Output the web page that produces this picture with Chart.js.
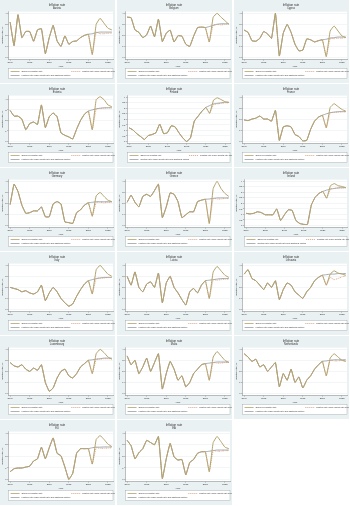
<!DOCTYPE html>
<html>
<head>
<meta charset="utf-8">
<script src="https://cdn.jsdelivr.net/npm/chart.js@4"></script>
<style>
    body { margin: 0; background: #fff; width: 350px; height: 506px; position: relative; overflow: hidden; }
    canvas { position: absolute; display: block; }
</style>
</head>
<body>
<script>

const years = [2000, 2001, 2002, 2003, 2004, 2005, 2006, 2007, 2008, 2009, 2010, 2011, 2012, 2013,
    2014, 2015, 2016, 2017, 2018, 2019, 2020, 2021, 2022, 2023, 2024, 2025, 2026];

const xTicks = [2000, 2005, 2010, 2015, 2020, 2025];

const countries = ["Austria", "Belgium", "Cyprus", "Estonia", "Finland", "France", "Germany", "Greece",
    "Ireland", "Italy", "Latvia", "Lithuania", "Luxembourg", "Malta", "Netherlands", "EU", "EA"];

// y axis step per panel (most panels 0..4 by 1)
const yStep = [1, 1, 1, 1, 0.5, 1, 1, 1, 0.5, 1, 1, 1, 1, 1, 1, 1, 1];
const yMax = [4.15, 4.15, 4.15, 4.35, 4.15, 4.15, 4.15, 4.15, 4.15, 4.15, 4.15, 4.15, 4.15, 4.15, 4.15, 4.15, 4.15];

// observed inflation, 2000-2026
const observed = [
    [3.2, 1.07, 3.87, 1.8, 2.35, 2.35, 1.47, 2.5, 2.6, 0.35, 1.8, 2.9, 1.5, 1.0, 1.95, 1.2, 1.45, 1.5, 1.8, 2.0, 2.1, 0.27, 3.0, 3.55, 3.1, 2.65, 2.5],
    [3.65, 3.6, 2.5, 2.27, 1.8, 2.05, 2.85, 1.87, 3.47, 1.44, 2.2, 2.47, 1.4, 1.97, 1.93, 1.2, 1.0, 1.93, 2.7, 2.75, 2.7, 1.4, 3.65, 4.0, 3.65, 3.33, 3.0],
    [2.48, 2.27, 1.52, 1.47, 1.73, 2.35, 2.13, 1.73, 4.0, 0.13, 2.2, 3.0, 2.27, 1.2, 0.6, 0.67, 1.68, 1.6, 1.41, 1.52, 1.6, 0.08, 2.4, 2.85, 2.4, 1.95, 1.8],
    [2.94, 2.41, 2.41, 2.12, 1.12, 1.7, 1.85, 1.62, 3.47, 1.32, 2.35, 2.7, 2.35, 0.82, 0.59, 0.44, 0.24, 1.18, 2.0, 2.59, 2.88, 1.12, 3.97, 4.25, 3.97, 3.47, 3.3],
    [1.24, 1.05, 0.71, 0.45, 0.18, 0.53, 0.63, 0.79, 1.58, 0.71, 0.79, 1.42, 1.32, 0.79, 0.32, 0.0, 0.32, 1.84, 2.29, 2.74, 3.08, 2.55, 3.74, 3.95, 3.79, 3.6, 3.53],
    [1.95, 1.89, 2.03, 2.11, 2.3, 2.03, 2.03, 1.84, 2.82, 0.1, 1.32, 1.42, 1.32, 0.63, 0.45, 0.05, 0.1, 1.1, 1.84, 2.2, 2.37, 1.24, 3.08, 3.42, 3.16, 2.9, 2.74],
    [1.9, 3.74, 3.08, 1.84, 1.1, 1.16, 1.32, 1.32, 1.68, 0.79, 0.79, 1.95, 2.16, 1.95, 0.32, 0.26, 0.18, 1.16, 1.42, 1.84, 2.05, 0.84, 2.68, 3.0, 2.63, 2.29, 2.16],
    [2.1, 2.74, 2.1, 1.68, 2.63, 2.82, 2.63, 3.16, 3.74, 0.71, 1.68, 2.95, 2.82, 2.16, 0.71, 0.97, 1.24, 1.24, 2.16, 2.29, 2.37, 0.18, 3.34, 4.0, 3.34, 2.9, 2.63],
    [1.1, 1.05, 1.1, 1.24, 1.16, 0.97, 0.97, 0.97, 1.5, 0.45, 0.97, 1.42, 1.37, 0.45, 0.18, 0.1, 0.1, 1.84, 2.55, 2.9, 3.08, 2.47, 3.6, 3.79, 3.6, 3.53, 3.42],
    [2.0, 1.9, 1.8, 1.6, 1.7, 1.5, 1.4, 1.6, 2.2, 0.8, 1.5, 2.0, 1.6, 1.0, 0.6, 0.3, 0.5, 1.2, 1.8, 2.3, 2.6, 1.4, 3.6, 4.0, 3.6, 3.2, 3.0],
    [3.0, 2.2, 3.4, 2.0, 1.6, 2.3, 2.5, 2.0, 3.3, 0.6, 2.4, 3.0, 2.0, 1.5, 0.9, 0.4, 1.6, 1.9, 1.5, 2.2, 2.6, 1.0, 3.4, 3.9, 3.5, 3.1, 2.9],
    [3.2, 3.6, 2.8, 2.6, 2.2, 1.8, 2.4, 2.0, 2.6, 0.9, 1.8, 2.4, 2.2, 1.6, 1.3, 1.0, 1.6, 2.0, 2.6, 2.9, 3.1, 2.2, 3.2, 3.5, 3.3, 3.2, 3.1],
    [2.8, 2.5, 2.4, 2.6, 2.2, 2.0, 2.3, 2.1, 2.6, 1.0, 0.2, 0.5, 1.4, 2.0, 2.2, 1.6, 1.4, 1.8, 2.4, 2.7, 3.0, 1.8, 3.6, 4.0, 3.7, 3.3, 3.1],
    [3.4, 2.6, 3.0, 1.8, 2.4, 3.2, 2.0, 2.8, 3.6, 0.4, 1.8, 2.9, 2.2, 1.2, 1.6, 0.6, 1.0, 1.8, 2.2, 2.6, 2.7, 1.2, 3.3, 3.8, 3.4, 3.0, 2.8],
    [3.6, 3.3, 2.9, 3.1, 2.4, 2.6, 2.0, 2.4, 2.8, 0.6, 1.8, 1.2, 2.2, 1.0, 1.5, 0.5, 1.2, 1.6, 2.2, 2.6, 2.9, 1.6, 3.2, 3.6, 3.3, 3.0, 2.9],
    [0.67, 0.93, 0.99, 0.99, 1.07, 1.15, 1.6, 1.79, 2.8, 1.79, 2.75, 3.6, 2.27, 2.05, 1.07, 0.0, 0.53, 2.27, 2.67, 2.67, 2.67, 1.33, 3.47, 3.81, 3.47, 3.07, 2.85],
    [3.39, 2.93, 1.79, 2.32, 2.67, 3.39, 3.2, 3.01, 3.73, 0.08, 1.79, 3.12, 1.95, 1.68, 1.73, 0.4, 1.47, 1.73, 2.27, 2.4, 2.4, 0.67, 3.2, 3.73, 3.28, 2.8, 2.67]
];

// growth rate + additional factors path, 2021-2026
const factorPath = [
    [2.15, 2.25, 2.3, 2.3, 2.3, 2.3], [2.8, 2.9, 3.0, 3.05, 3.05, 3.05], [1.65, 1.75, 1.8, 1.85, 1.85, 1.85],
    [3.0, 3.1, 3.15, 3.2, 3.2, 3.2], [3.25, 3.4, 3.45, 3.5, 3.55, 3.55], [2.5, 2.6, 2.65, 2.7, 2.7, 2.7],
    [2.1, 2.15, 2.15, 2.15, 2.15, 2.15], [2.4, 2.45, 2.5, 2.5, 2.5, 2.5], [3.2, 3.3, 3.35, 3.4, 3.42, 3.42],
    [2.7, 2.8, 2.85, 2.9, 2.9, 2.9], [2.65, 2.7, 2.75, 2.8, 2.8, 2.8], [3.15, 3.2, 3.2, 3.25, 3.25, 3.25],
    [3.05, 3.1, 3.15, 3.2, 3.2, 3.2], [2.75, 2.8, 2.85, 2.85, 2.85, 2.85], [2.95, 3.0, 3.05, 3.05, 3.05, 3.05],
    [2.75, 2.8, 2.8, 2.82, 2.82, 2.82], [2.45, 2.5, 2.55, 2.55, 2.55, 2.55]
];

// growth rate scenario path, 2022-2026
const growthPath = [
    [2.3, 2.15, 2.15, 2.2, 2.2], [2.95, 3.0, 2.95, 3.0, 3.05], [1.75, 1.7, 1.75, 1.75, 1.8],
    [3.1, 3.15, 3.15, 3.2, 3.2], [3.35, 3.4, 3.45, 3.5, 3.5], [2.6, 2.65, 2.65, 2.7, 2.7],
    [2.1, 2.1, 2.05, 2.1, 2.1], [2.45, 2.4, 2.4, 2.45, 2.45], [3.3, 3.35, 3.4, 3.4, 3.42],
    [2.8, 2.85, 2.85, 2.9, 2.9], [2.7, 2.65, 2.7, 2.75, 2.75], [2.9, 2.7, 2.8, 2.95, 3.05],
    [3.1, 3.1, 3.15, 3.15, 3.15], [2.8, 2.75, 2.75, 2.8, 2.8], [3.0, 2.95, 2.95, 3.0, 3.0],
    [2.75, 2.7, 2.7, 2.72, 2.75], [2.5, 2.45, 2.45, 2.5, 2.5]
];

const legendLabels = [
    "Observed inflation rate",
    "Inflation rate under growth rate scenario",
    "Inflation rate under growth rate and additional factors"
];

const colObserved = "#b3a26c";
const colGrowth = "#d49f80";
const colFactor = "#98a1a6";
const fontFamily = "'Liberation Sans', Arial, sans-serif";

const colLeft = [0, 117, 234];
const panelW = 115;

// stata like background + legend box
const stataFrame = {
    id: "stataFrame",
    beforeDraw(chart) {
        const { ctx, chartArea: a, width, height } = chart;
        ctx.save();
        ctx.fillStyle = "#eaf1f3";
        ctx.fillRect(0, 0, width, height);
        ctx.fillStyle = "#ffffff";
        ctx.fillRect(a.left, a.top, a.right - a.left, a.bottom - a.top);
        ctx.restore();
    },
    afterDraw(chart) {
        const { ctx, chartArea: a, height } = chart;
        const bx = a.left, by = height - 14.5, bw = a.right - a.left, bh = 10;
        ctx.save();
        ctx.fillStyle = "#ffffff";
        ctx.fillRect(bx, by, bw, bh);
        ctx.strokeStyle = "#9aa3a7";
        ctx.lineWidth = 0.4;
        ctx.strokeRect(bx, by, bw, bh);

        const items = [
            { x: bx + 2, y: by + 3, color: colObserved, dash: [], text: legendLabels[0] },
            { x: bx + bw * 0.6, y: by + 3, color: colGrowth, dash: [1.2, 0.8], text: legendLabels[1] },
            { x: bx + 2, y: by + 7, color: colFactor, dash: [], text: legendLabels[2] }
        ];

        ctx.font = "2.1px " + fontFamily;
        ctx.textBaseline = "middle";
        items.forEach(it => {
            ctx.strokeStyle = it.color;
            ctx.lineWidth = 0.8;
            ctx.setLineDash(it.dash);
            ctx.beginPath();
            ctx.moveTo(it.x, it.y);
            ctx.lineTo(it.x + 9, it.y);
            ctx.stroke();
            ctx.setLineDash([]);
            ctx.fillStyle = "#333";
            ctx.fillText(it.text, it.x + 11, it.y);
        });
        ctx.restore();
    }
};

function toPoints(values) {
    return values.map((v, i) => ({ x: years[i], y: v }));
}

countries.forEach((country, i) => {

    const row = Math.floor(i / 3);
    const col = i % 3;
    const panelH = row === 5 ? 85 : 83;

    const canvas = document.createElement("canvas");
    canvas.width = panelW;
    canvas.height = panelH;
    canvas.style.left = colLeft[col] + "px";
    canvas.style.top = (row * 84) + "px";
    canvas.style.width = panelW + "px";
    canvas.style.height = panelH + "px";
    document.body.appendChild(canvas);

    const obs = observed[i];
    const factorSeries = obs.slice(0, 21).concat(factorPath[i]);
    const growthSeries = obs.slice(0, 22).concat(growthPath[i]);

    const step = yStep[i];

    new Chart(canvas, {

        type: "line",

        data: {
            datasets: [
                {
                    label: legendLabels[0],
                    data: toPoints(obs),
                    borderColor: colObserved,
                    borderWidth: 1,
                    pointRadius: 0,
                    tension: 0.1
                },
                {
                    label: legendLabels[1],
                    data: toPoints(growthSeries),
                    borderColor: colGrowth,
                    borderWidth: 0.8,
                    borderDash: [1.2, 0.8],
                    pointRadius: 0,
                    tension: 0.1
                },
                {
                    label: legendLabels[2],
                    data: toPoints(factorSeries),
                    borderColor: colFactor,
                    borderWidth: 0.9,
                    pointRadius: 0,
                    tension: 0.1
                }
            ]
        },

        options: {
            responsive: false,
            animation: false,
            devicePixelRatio: 1,
            layout: { padding: { left: 1, right: 2, top: 0, bottom: 15 } },
            plugins: {
                legend: { display: false },
                tooltip: { enabled: false },
                title: {
                    display: true,
                    text: "Inflation rate",
                    color: "#333",
                    font: { size: 3, family: fontFamily, weight: "normal" },
                    padding: { top: 3, bottom: 0.4 }
                },
                subtitle: {
                    display: true,
                    text: country,
                    color: "#333",
                    font: { size: 2.6, family: fontFamily },
                    padding: { top: 0, bottom: 1.5 }
                }
            },
            scales: {
                x: {
                    type: "linear",
                    min: 1999.6,
                    max: 2026.3,
                    afterBuildTicks: axis => { axis.ticks = xTicks.map(v => ({ value: v })); },
                    grid: { drawOnChartArea: false, tickLength: 1.5, tickColor: "#666", tickWidth: 0.4 },
                    border: { color: "#666", width: 0.4 },
                    ticks: {
                        color: "#333",
                        font: { size: 2.3, family: fontFamily },
                        padding: 0.6,
                        maxRotation: 0,
                        callback: v => String(v)
                    },
                    title: {
                        display: true,
                        text: "Year",
                        color: "#333",
                        font: { size: 2.5, family: fontFamily },
                        padding: { top: 0.4, bottom: 0 }
                    }
                },
                y: {
                    min: -0.15,
                    max: yMax[i],
                    afterBuildTicks: axis => {
                        const t = [];
                        for (let v = 0; v <= 4 + 1e-9; v += step) t.push({ value: v });
                        axis.ticks = t;
                    },
                    grid: { color: "#e4ecef", lineWidth: 0.5, tickLength: 1.5, tickColor: "#666", tickWidth: 0.4 },
                    border: { color: "#666", width: 0.4 },
                    ticks: {
                        color: "#333",
                        font: { size: 2.3, family: fontFamily },
                        padding: 0.6,
                        callback: v => String(v)
                    },
                    title: {
                        display: true,
                        text: "Inflation rate, %",
                        color: "#333",
                        font: { size: 2.5, family: fontFamily },
                        padding: { top: 0, bottom: 0.6 }
                    }
                }
            }
        },

        plugins: [stataFrame]

    });

});

</script>
</body>
</html>
